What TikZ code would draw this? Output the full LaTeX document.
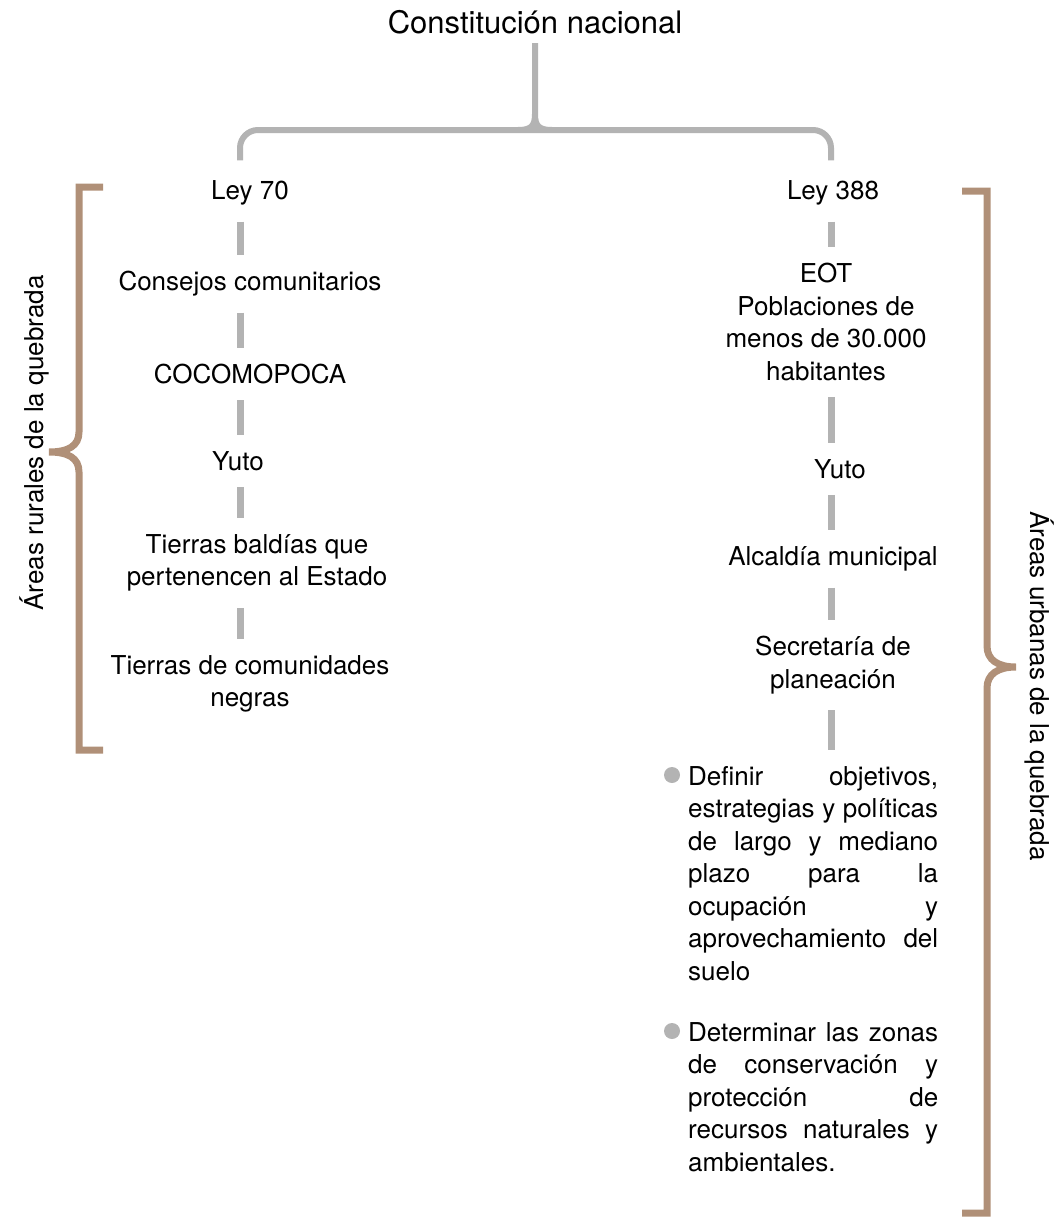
\documentclass[tikz,border=0pt]{standalone}
\usepackage{fontspec}
\setmainfont{TeX Gyre Heros}

\definecolor{lineGray}{RGB}{179,179,179}
\definecolor{bracketBrown}{RGB}{176,144,120}

\tikzset{
  txt/.style={inner sep=0pt, align=center, font=\fontsize{26}{32.5}\selectfont},
  link/.style={lineGray, line width=7pt, shorten <=16pt, shorten >=16pt},
  brace/.style={lineGray, line width=6pt},
  bracket/.style={bracketBrown, line width=7pt},
  item/.style={txt, anchor=north west, text width=250pt, align=justify},
}

\begin{document}
\begin{tikzpicture}[x=1pt, y=-1pt]
        \useasboundingbox (0,0) rectangle (1057,1218);

        \coordinate (colL) at (240,0);
        \coordinate (colR) at (831,0);

        \node[txt, font=\fontsize{31}{36}\selectfont] (const) at (535,22) {Constitución nacional};

        % rural side
        \node[txt] (ley70) at (250,193) {Ley 70};
        \node[txt] (consejos) at (250,284) {Consejos comunitarios};
        \node[txt] (cocomo) at (250,374) {COCOMOPOCA};
        \node[txt] (yutoL) at (238,461) {Yuto};
        \node[txt] (baldias) at (257,563) {Tierras baldías que\\pertenencen al Estado};
        \node[txt] (negras) at (250,684) {Tierras de comunidades\\negras};

        % urban side
        \node[txt] (ley388) at (833,193) {Ley 388};
        \node[txt] (eot) at (826,322) {EOT\\Poblaciones de\\menos de 30.000\\habitantes};
        \node[txt] (yutoR) at (840,469) {Yuto};
        \node[txt] (alcaldia) at (833,559) {Alcaldía municipal};
        \node[txt] (secre) at (833,665) {Secretaría de\\planeación};

        \node[item] (obj) at (688,766) {Definir objetivos,\linebreak estrategias y políticas\linebreak de largo y mediano\linebreak plazo para la\linebreak ocupación y\linebreak aprovechamiento del\linebreak suelo};
        \node[item] (zonas) at (688,1022) {Determinar las zonas\linebreak de conservación y\linebreak protección de\linebreak recursos naturales y\linebreak ambientales.};
        \fill[lineGray] ([xshift=-16pt, yshift=-9pt]obj.north west) circle (8pt);
        \fill[lineGray] ([xshift=-16pt, yshift=-9pt]zonas.north west) circle (8pt);

        % top brace
        \coordinate (legL) at ([yshift=20pt]ley70.north);
        \coordinate (legR) at ([yshift=20pt]ley388.north);
        \draw[brace, rounded corners=18pt] (legL -| colL) |- (535,130) -| (legR -| colR);
        \draw[brace] ([yshift=-9pt]const.south) -- (535,114) .. controls (535,126) and (531,130) .. (518,130);
        \draw[brace] (535,114) .. controls (535,126) and (539,130) .. (552,130);

        % dashes
        \draw[link] (ley70.south -| colL) -- (consejos.north -| colL);
        \draw[link] (consejos.south -| colL) -- (cocomo.north -| colL);
        \draw[link] (cocomo.south -| colL) -- (yutoL.north -| colL);
        \draw[link] (yutoL.south -| colL) -- (baldias.north -| colL);
        \draw[link] (baldias.south -| colL) -- (negras.north -| colL);

        \draw[link] (ley388.south -| colR) -- (eot.north -| colR);
        \draw[link] (eot.south -| colR) -- (yutoR.north -| colR);
        \draw[link] (yutoR.south -| colR) -- (alcaldia.north -| colR);
        \draw[link] (alcaldia.south -| colR) -- (secre.north -| colR);
        \draw[link] (secre.south -| colR) -- (obj.north -| colR);

        % side brackets
        \draw[bracket] (103,187) -- (79,187) -- (79,432) .. controls (79,446) and (68,452) .. (49,452)
            .. controls (68,452) and (79,458) .. (79,472) -- (79,750) -- (103,750);
        \draw[bracket] (962,191) -- (987,191) -- (987,646) .. controls (987,660) and (998,667) .. (1016,667)
            .. controls (998,667) and (987,674) .. (987,688) -- (987,1213) -- (962,1213);

        \node[txt, rotate=90] (rural) at (34,443) {Áreas rurales de la quebrada};
        \node[txt, rotate=-90] (urban) at (1040,686) {Áreas urbanas de la quebrada};
    \end{tikzpicture}
\end{document}
